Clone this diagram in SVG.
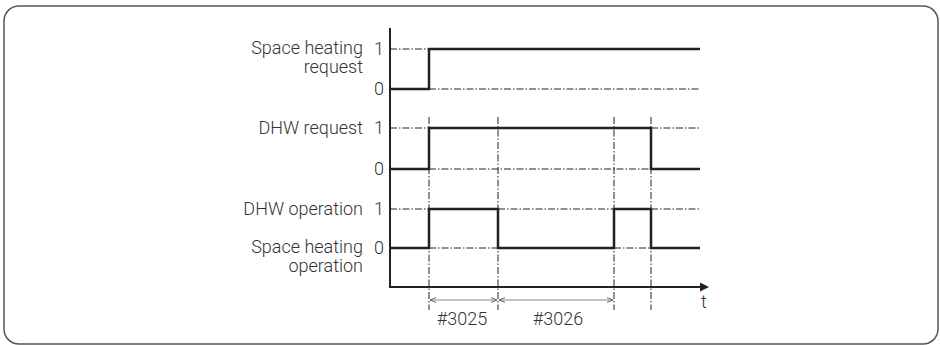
<svg xmlns="http://www.w3.org/2000/svg" width="940" height="345" viewBox="0 0 940 345">
<style>
.lbl{font-family:Roboto,"Liberation Sans",sans-serif;font-weight:300;font-size:18px;fill:#333}
.end{text-anchor:end}
.mid{text-anchor:middle}
.sig{fill:none;stroke:#222;stroke-width:2.5;stroke-linejoin:miter}
.axis{fill:none;stroke:#222;stroke-width:2}
.dd{fill:none;stroke:#222;stroke-width:1;stroke-dasharray:7 2 1.5 2}
.dim{fill:none;stroke:#888;stroke-width:1.2}
</style>
<defs>
<marker id="ah" viewBox="0 0 10 10" refX="10" refY="5" markerWidth="6" markerHeight="6" orient="auto-start-reverse" markerUnits="userSpaceOnUse">
<path d="M0,1 L10,5 L0,9" fill="none" stroke="#555" stroke-width="1.5"/>
</marker>
<marker id="tip" viewBox="0 0 10 10" refX="0" refY="5" markerWidth="9" markerHeight="9" orient="auto" markerUnits="userSpaceOnUse">
<path d="M0,0 L10,5 L0,10 z" fill="#222"/>
</marker>
</defs>
<rect id="frame" x="4" y="6" width="934" height="338" rx="15" fill="#fff" stroke="#555" stroke-width="1.5"/>
<g id="labels">
<text class="lbl end" x="363" y="54">Space heating</text>
<text class="lbl end" x="363" y="73">request</text>
<text class="lbl" x="374" y="55">1</text>
<text class="lbl" x="374" y="95">0</text>
<text class="lbl end" x="363" y="134">DHW request</text>
<text class="lbl" x="374" y="134">1</text>
<text class="lbl" x="374" y="175">0</text>
<text class="lbl end" x="363" y="215">DHW operation</text>
<text class="lbl" x="374" y="215">1</text>
<text class="lbl end" x="363" y="253">Space heating</text>
<text class="lbl end" x="363" y="272">operation</text>
<text class="lbl" x="374" y="254">0</text>
<text class="lbl" x="701" y="308">t</text>
<text class="lbl mid" x="462" y="325">#3025</text>
<text class="lbl mid" x="558" y="325">#3026</text>
</g>
<g id="connectors">
<g id="guides">
<path class="dd" d="M390,49 H429 M429,89 H700"/>
<path class="dd" d="M390,128 H429 M651,128 H700 M429,169 H651"/>
<path class="dd" d="M390,209 H429 M498,209 H614 M651,209 H700 M429,248 H498 M614,248 H651"/>
<path class="dd" d="M429,117 V310 M498,117 V310 M614,117 V310 M651,117 V310"/>
</g>
<g id="axes">
<path class="axis" d="M390,28 V287 H700" marker-end="url(#tip)"/>
</g>
<g id="signals">
<path class="sig" d="M390,89 H429 V49 H700"/>
<path class="sig" d="M390,169 H429 V128 H651 V169 H700"/>
<path class="sig" d="M390,248 H429 V209 H498 V248 H614 V209 H651 V248 H700"/>
</g>
<g id="dimensions">
<path class="dim" d="M430,300 H497" marker-start="url(#ah)" marker-end="url(#ah)"/>
<path class="dim" d="M499,300 H613" marker-start="url(#ah)" marker-end="url(#ah)"/>
</g>
</g>
</svg>
